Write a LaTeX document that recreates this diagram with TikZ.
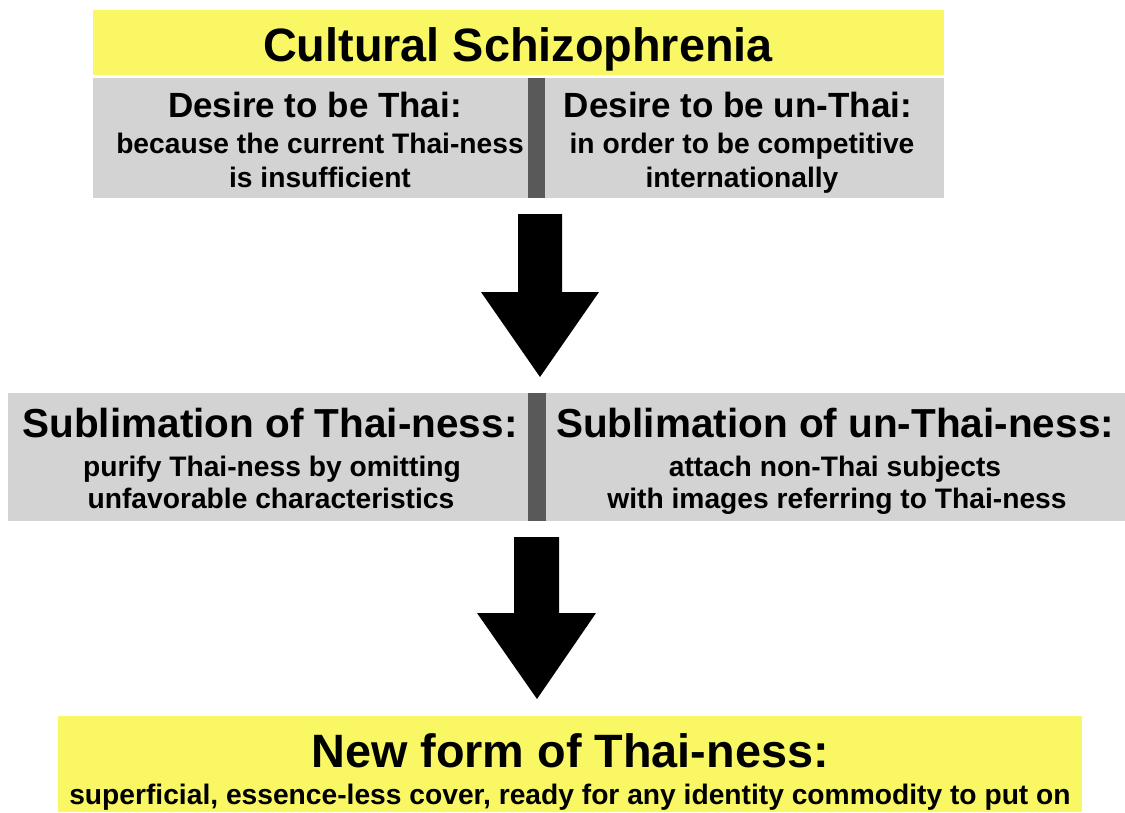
\documentclass[tikz,border=0pt]{standalone}
\usepackage{fontspec}
\setmainfont{Liberation Sans}
\usepackage{tikz}
\usetikzlibrary{positioning}
\definecolor{hiyellow}{RGB}{249,248,100}
\definecolor{boxgray}{RGB}{211,211,211}
\definecolor{bargray}{RGB}{89,89,89}
\tikzset{
 txt/.style={anchor=base,inner sep=0pt,font=\bfseries},
 big/.style={txt,font=\fontsize{46.8}{50}\selectfont\bfseries},
 head/.style={txt,font=\fontsize{35}{38}\selectfont\bfseries},
 headL/.style={txt,font=\fontsize{40.5}{44}\selectfont\bfseries},
 sub/.style={txt,font=\fontsize{28.2}{31}\selectfont\bfseries}
}

\begin{document}
\begin{tikzpicture}[x=1pt,y=-1pt]
\useasboundingbox (0,0) rectangle (1125,812);
% boxes
\fill[hiyellow] (93,10) rectangle (944,75);
\fill[boxgray] (93,78) rectangle (944,198);
\fill[bargray] (528,78) rectangle (545,198);
\fill[boxgray] (8,393) rectangle (1125,521);
\fill[bargray] (528,393) rectangle (546,521);
\fill[hiyellow] (58,716) rectangle (1082,812);
% arrows
\fill[black] (518,214) -- (562,214) -- (562,292) -- (599,292) -- (540,377) -- (481,292) -- (518,292) -- cycle;
\fill[black] (514,537) -- (559,537) -- (559,613) -- (596,613) -- (537,699) -- (477,613) -- (514,613) -- cycle;
% texts
\node[big] (title) at (518,61) {Cultural Schizophrenia};
\node[head] (desT) at (315,117) {Desire to be Thai:};
\node[sub] (desT1) at (320,153) {because the current Thai-ness};
\node[sub] (desT2) at (320,187) {is insufficient};
\node[head] (desU) at (738,117) {Desire to be un-Thai:};
\node[sub] (desU1) at (742,153) {in order to be competitive};
\node[sub] (desU2) at (742,187) {internationally};
\node[headL] (subT) at (270,437) {Sublimation of Thai-ness:};
\node[sub] (subT1) at (272,476) {purify Thai-ness by omitting};
\node[sub] (subT2) at (271,508) {unfavorable characteristics};
\node[headL] (subU) at (835,437) {Sublimation of un-Thai-ness:};
\node[sub] (subU1) at (835,476) {attach non-Thai subjects};
\node[sub] (subU2) at (837,508) {with images referring to Thai-ness};
\node[big] (newform) at (570,767) {New form of Thai-ness:};
\node[sub] (newform1) at (570,804) {superficial, essence-less cover, ready for any identity commodity to put on};
\end{tikzpicture}
\end{document}
